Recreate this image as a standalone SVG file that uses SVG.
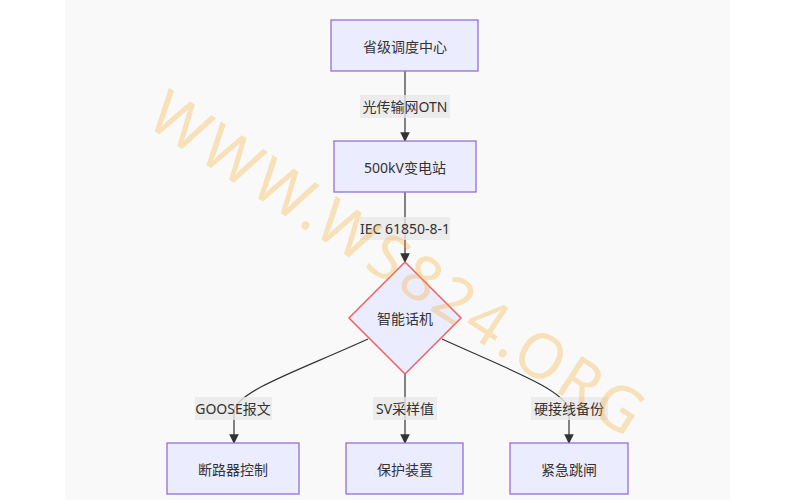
<svg xmlns="http://www.w3.org/2000/svg" width="800" height="500" viewBox="0 0 800 500">
<defs>
<style>
.n{fill:#ececff;stroke:#9370db;stroke-width:1.3}
.t{font-family:"Noto Sans","Noto Sans CJK SC",sans-serif;font-size:14px;fill:#333;text-anchor:middle;dominant-baseline:central}
.e{fill:none;stroke:#333;stroke-width:1.2}
.lb{fill:#e8e8e8;opacity:0.8}
</style>
<marker id="a" viewBox="0 0 10 10" refX="9" refY="5" markerWidth="8" markerHeight="8" orient="auto"><path d="M0,0L10,5L0,10z" fill="#333"/></marker>
</defs>
<rect width="800" height="500" fill="#fff"/>
<rect x="65" y="0" width="665" height="500" fill="#f9f9f9"/>
<g id="edges">
<path class="e" d="M405,71V141" marker-end="url(#a)"/>
<path class="e" d="M405,192V262" marker-end="url(#a)"/>
<path class="e" d="M368,339C300,370 240,390 234,410V443" marker-end="url(#a)"/>
<path class="e" d="M405,373V443" marker-end="url(#a)"/>
<path class="e" d="M442,339C510,370 565,390 569,410V443" marker-end="url(#a)"/>
<rect class="lb" x="360" y="95" width="90" height="23"/><text class="t" x="405" y="106">光传输网OTN</text>
<rect class="lb" x="360" y="217" width="90" height="23"/><text class="t" x="405" y="228">IEC 61850-8-1</text>
<rect class="lb" x="195" y="397" width="77" height="23"/><text class="t" x="233" y="408">GOOSE报文</text>
<rect class="lb" x="373" y="397" width="64" height="23"/><text class="t" x="405" y="408">SV采样值</text>
<rect class="lb" x="531" y="397" width="77" height="23"/><text class="t" x="569" y="408">硬接线备份</text>
</g>
<g id="n1"><rect class="n" x="331" y="20" width="147" height="51"/><text class="t" x="405" y="46">省级调度中心</text></g>
<g id="n2"><rect class="n" x="334" y="141" width="142" height="51"/><text class="t" x="405" y="167">500kV变电站</text></g>
<g id="n3"><path d="M405,262L461,318L405,374L349,318z" fill="#ececff" stroke="#f06060" stroke-width="1.5"/><text class="t" x="405" y="318">智能话机</text></g>
<g id="n4"><rect class="n" x="167" y="443" width="132" height="51"/><text class="t" x="233" y="469">断路器控制</text></g>
<g id="n5"><rect class="n" x="346" y="443" width="117" height="51"/><text class="t" x="405" y="469">保护装置</text></g>
<g id="n6"><rect class="n" x="510" y="443" width="118" height="51"/><text class="t" x="569" y="469">紧急跳闸</text></g>
<text x="400" y="262" transform="rotate(33 400 262)" font-family="'Noto Sans',sans-serif" font-size="62" fill="#f5a623" fill-opacity="0.3" text-anchor="middle" dominant-baseline="central" letter-spacing="4">WWW.WS824.ORG</text>
</svg>
